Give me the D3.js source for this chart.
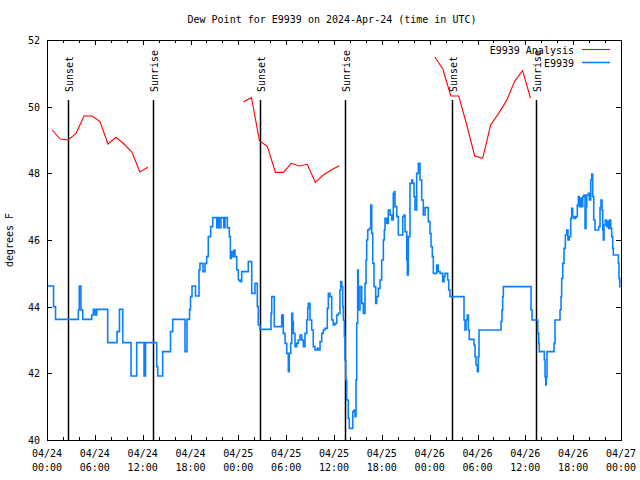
<!DOCTYPE html>
<html>
<head>
<meta charset="utf-8">
<script src="https://cdn.jsdelivr.net/npm/d3@7"></script>
<style>
  body { margin: 0; background: #fff; }
  text { font-family: "DejaVu Sans Mono", monospace; font-size: 10px; fill: #000; }
</style>
</head>
<body>
<div id="chart"></div>
<script>
// hours since 2024-04-24 00:00 UTC
const analysisHours = [0.65, 1.65, 2.65, 3.65, 4.65, 5.65, 6.65, 7.65, 8.65, 9.65, 10.65, 11.65, 12.65, null,
  24.65, 25.65, 26.65, 27.65, 28.65, 29.65, 30.65, 31.65, 32.65, 33.65, 34.65, 35.65, 36.65, null,
  48.65, 49.65, 50.65, 51.65, 52.65, 53.65, 54.65, 55.65, 56.65, 57.65, 58.65, 59.65, 60.65];
const analysisValues = [49.30, 49.03, 49.0, 49.2, 49.72, 49.72, 49.55, 48.88, 49.08, 48.88, 48.64, 48.04, 48.18, null,
  50.15, 50.27, 48.98, 48.8, 48.03, 48.03, 48.3, 48.22, 48.27, 47.73, 47.95, 48.1, 48.23, null,
  51.49, 51.13, 50.32, 50.32, 49.45, 48.52, 48.45, 49.45, 49.8, 50.18, 50.76, 51.08, 50.26];

// station observations [hour, dew point]
const obsSeries = [
  [0, 44.62], [0.82, 44.0], [1.07, 43.62], [3.93, 43.9], [4.05, 44.62], [4.26, 43.9], [4.48, 43.62],
  [5.61, 43.75], [5.81, 43.92], [6.02, 43.75], [6.23, 43.92], [7.61, 42.92], [8.78, 43.25], [9.09, 43.92],
  [9.50, 42.92], [10.54, 41.92], [11.25, 42.92], [12.17, 41.92], [12.36, 42.92], [13.76, 42.2], [13.89, 41.92],
  [14.51, 42.65], [15.49, 43.25], [15.77, 43.62], [17.31, 42.65], [17.56, 43.62], [17.88, 43.92], [18.0, 44.3],
  [18.19, 44.62], [18.63, 44.32], [19.07, 45.1], [19.19, 45.3], [19.57, 45.05], [19.82, 45.3], [20.03, 45.5],
  [20.23, 46.1], [20.53, 46.4], [20.79, 46.67], [21.29, 46.37], [21.49, 46.67], [21.61, 46.37], [21.83, 46.67],
  [22.17, 46.37], [22.33, 46.67], [22.62, 46.37], [22.87, 46.1], [23.0, 45.45], [23.12, 45.65], [23.33, 45.5],
  [23.46, 45.7], [23.58, 45.5], [23.80, 45.1], [24.0, 44.8], [24.21, 44.75], [24.42, 45.05], [25.25, 45.35],
  [25.68, 44.4], [26.09, 44.7], [26.38, 44.0], [26.50, 43.45], [26.72, 43.32], [28.10, 43.8], [28.19, 44.3],
  [28.51, 43.4], [29.44, 43.75], [29.64, 43.2], [29.86, 42.9], [30.07, 42.6], [30.27, 42.05], [30.39, 42.6],
  [30.57, 42.9], [30.70, 43.8], [30.82, 43.55], [30.90, 43.2], [31.11, 42.8], [31.32, 42.9], [31.52, 43.0],
  [31.74, 43.15], [31.95, 43.0], [32.15, 42.8], [32.36, 43.2], [32.58, 43.6], [32.70, 43.95], [32.78, 44.1],
  [32.99, 43.6], [33.20, 43.3], [33.40, 42.8], [33.62, 42.7], [33.91, 42.75], [34.03, 42.7], [34.25, 42.95],
  [34.46, 43.2], [34.66, 43.3], [34.87, 43.35], [35.16, 43.95], [35.29, 44.4], [35.50, 44.3], [35.71, 43.6],
  [35.91, 43.45], [36.13, 43.5], [36.34, 43.75], [36.54, 43.8], [36.75, 44.5], [36.84, 44.75], [36.97, 44.6],
  [37.09, 44.0], [37.17, 43.6], [37.30, 43.1], [37.38, 42.4], [37.47, 41.8], [37.59, 41.2], [37.79, 40.65],
  [37.92, 40.35], [38.35, 40.85], [38.51, 40.9], [38.64, 40.7], [38.76, 41.8], [38.85, 43.5], [38.97, 45.1],
  [39.05, 43.9], [39.26, 44.6], [39.48, 44.1], [39.68, 43.8], [39.89, 44.7], [40.02, 45.4], [40.10, 46.0],
  [40.23, 46.3], [40.43, 46.35], [40.61, 47.05], [40.73, 46.2], [40.86, 45.3], [41.02, 44.6], [41.23, 44.1],
  [41.36, 44.3], [41.56, 44.55], [41.77, 44.8], [41.98, 45.4], [42.19, 46.0], [42.31, 46.3], [42.40, 46.65],
  [42.61, 46.5], [42.81, 46.9], [43.03, 46.75], [43.24, 46.6], [43.44, 47.4], [43.57, 47.45], [43.65, 47.0],
  [43.87, 46.7], [44.07, 46.15], [44.62, 46.7], [44.78, 46.75], [44.91, 46.25], [45.12, 45.4], [45.20, 44.95],
  [45.32, 46.1], [45.53, 47.7], [45.75, 47.8], [45.87, 47.7], [46.04, 47.3], [46.16, 46.9], [46.37, 48.0],
  [46.58, 48.3], [46.79, 47.8], [47.0, 47.2], [47.20, 46.75], [47.42, 46.97], [47.83, 46.55], [48.04, 46.2],
  [48.17, 45.8], [48.33, 45.5], [48.46, 45.0], [48.88, 45.25], [49.08, 45.05], [49.30, 45.0], [49.64, 44.75],
  [49.80, 44.9], [49.93, 45.0], [50.26, 44.8], [50.39, 44.5], [50.55, 44.3], [52.31, 43.6], [52.43, 43.3],
  [52.56, 43.6], [52.72, 43.75], [52.85, 43.3], [52.97, 43.02], [53.56, 42.85], [53.69, 42.5], [53.81, 42.25],
  [53.98, 42.05], [54.10, 42.5], [54.19, 43.3], [56.95, 43.55], [57.07, 43.9], [57.16, 44.3], [57.24, 44.6],
  [60.71, 43.9], [60.84, 43.6], [61.55, 43.2], [61.68, 42.9], [61.75, 42.65], [62.38, 42.4], [62.47, 41.9],
  [62.56, 41.65], [62.63, 41.9], [62.72, 42.65], [63.60, 42.9], [63.72, 43.6], [64.35, 43.9], [64.48, 44.3],
  [64.56, 44.85], [64.69, 45.3], [64.85, 45.75], [65.02, 46.15], [65.19, 46.3], [65.35, 46.0], [65.52, 46.1],
  [65.69, 46.65], [65.82, 46.95], [65.94, 46.7], [66.11, 46.65], [66.32, 46.7], [66.52, 47.05], [66.65, 47.3],
  [66.77, 47.0], [66.95, 47.25], [67.07, 47.0], [67.20, 47.3], [67.36, 47.35], [67.49, 46.35], [67.61, 47.0],
  [67.70, 47.35], [67.90, 47.4], [68.03, 47.2], [68.20, 47.8], [68.33, 47.98], [68.45, 47.3], [68.58, 46.6],
  [68.74, 46.3], [69.20, 46.4], [69.37, 46.97], [69.49, 47.2], [69.62, 46.9], [69.71, 46.3], [69.78, 46.0],
  [69.87, 46.45], [70.03, 46.6], [70.21, 46.4], [70.33, 46.55], [70.46, 46.35], [70.53, 46.6], [70.71, 46.35],
  [70.83, 46.1], [70.96, 45.75], [71.04, 45.55], [71.67, 45.3], [71.75, 44.85], [71.84, 44.6], [71.95, 44.6]
];

const sunLabels = ['Sunset', 'Sunrise', 'Sunset', 'Sunrise', 'Sunset', 'Sunrise'];
const sunHours = [2.67, 13.33, 26.75, 37.4, 50.83, 61.37];

const yTicks = [40, 42, 44, 46, 48, 50, 52];
const xTickDates = ['04/24', '04/24', '04/24', '04/24', '04/25', '04/25', '04/25', '04/25', '04/26', '04/26', '04/26', '04/26', '04/27'];
const xTickTimes = ['00:00', '06:00', '12:00', '18:00', '00:00', '06:00', '12:00', '18:00', '00:00', '06:00', '12:00', '18:00', '00:00'];

const width = 640;
const height = 480;
const margin = { top: 40, right: 19, bottom: 40, left: 47 };

const svg = d3.select('#chart')
  .append('svg')
  .attr('width', width)
  .attr('height', height);

const x = d3.scaleLinear()
  .domain([0, 72])
  .range([margin.left, width - margin.right]);

const y = d3.scaleLinear()
  .domain([40, 52])
  .range([height - margin.bottom, margin.top]);

// ticks (inward, gnuplot style)
function ticks(g, axis) {
  g.call(axis).call(g => g.select('.domain').remove())
    .selectAll('line').attr('stroke', '#000').attr('shape-rendering', 'crispEdges');
  g.selectAll('text').remove();
}
const minor = d3.range(0, 73, 2);
const major = d3.range(0, 73, 6);
svg.append('g').attr('transform', `translate(0,${height - margin.bottom})`)
  .call(g => ticks(g, d3.axisBottom(x).tickValues(minor).tickSizeInner(-3).tickSizeOuter(0)));
svg.append('g').attr('transform', `translate(0,${height - margin.bottom})`)
  .call(g => ticks(g, d3.axisBottom(x).tickValues(major).tickSizeInner(-5).tickSizeOuter(0)));
svg.append('g').attr('transform', `translate(0,${margin.top})`)
  .call(g => ticks(g, d3.axisTop(x).tickValues(minor).tickSizeInner(-3).tickSizeOuter(0)));
svg.append('g').attr('transform', `translate(0,${margin.top})`)
  .call(g => ticks(g, d3.axisTop(x).tickValues(major).tickSizeInner(-5).tickSizeOuter(0)));
svg.append('g').attr('transform', `translate(${margin.left},0)`)
  .call(g => ticks(g, d3.axisLeft(y).tickValues(yTicks).tickSizeInner(-5).tickSizeOuter(0)));
svg.append('g').attr('transform', `translate(${width - margin.right},0)`)
  .call(g => ticks(g, d3.axisRight(y).tickValues(yTicks).tickSizeInner(-5).tickSizeOuter(0)));

// tick labels
svg.append('g').selectAll('text')
  .data(yTicks)
  .join('text')
    .attr('x', margin.left - 7)
    .attr('y', d => y(d) + 4)
    .attr('text-anchor', 'end')
    .text(d => d);

const xl = svg.append('g').selectAll('text')
  .data(major)
  .join('text')
    .attr('text-anchor', 'middle');
xl.append('tspan').attr('x', d => x(d)).attr('y', 457).text((d, i) => xTickDates[i]);
xl.append('tspan').attr('x', d => x(d)).attr('y', 471).text((d, i) => xTickTimes[i]);

// sunrise / sunset markers
svg.append('g').selectAll('line')
  .data(sunHours)
  .join('line')
    .attr('x1', d => Math.round(x(d)) + 0.5)
    .attr('x2', d => Math.round(x(d)) + 0.5)
    .attr('y1', 100)
    .attr('y2', height - margin.bottom)
    .attr('stroke', '#000')
    .attr('stroke-width', 1.5);

svg.append('g').selectAll('text')
  .data(sunHours)
  .join('text')
    .attr('transform', d => `translate(${x(d) + 1},92) rotate(-90)`)
    .attr('dy', '0.35em')
    .text((d, i) => sunLabels[i]);

// series
const analysisLine = d3.line()
  .defined((d, i) => analysisValues[i] != null)
  .x(d => x(d))
  .y((d, i) => y(analysisValues[i]));

svg.append('path')
  .attr('d', analysisLine(analysisHours))
  .attr('fill', 'none')
  .attr('stroke', '#ff0000')
  .attr('stroke-width', 1.1);

const obsLine = d3.line()
  .curve(d3.curveStepAfter)
  .x(d => x(d[0]))
  .y(d => y(d[1]));

svg.append('path')
  .attr('d', obsLine(obsSeries))
  .attr('fill', 'none')
  .attr('stroke', '#0a80ff')
  .attr('stroke-width', 1.6);

// border
svg.append('rect')
  .attr('x', margin.left + 0.5)
  .attr('y', margin.top + 0.5)
  .attr('width', width - margin.left - margin.right)
  .attr('height', height - margin.top - margin.bottom)
  .attr('fill', 'none')
  .attr('stroke', '#000')
  .attr('shape-rendering', 'crispEdges');

// legend
const legend = [
  { name: 'E9939 Analysis', color: '#ff0000', width: 1.1 },
  { name: 'E9939', color: '#0a80ff', width: 1.6 }
];
const lg = svg.append('g').selectAll('g')
  .data(legend)
  .join('g')
    .attr('transform', (d, i) => `translate(0,${49.5 + i * 13})`);
lg.append('text')
  .attr('x', 574)
  .attr('y', 4)
  .attr('text-anchor', 'end')
  .text(d => d.name);
lg.append('line')
  .attr('x1', 582)
  .attr('x2', 610)
  .attr('stroke', d => d.color)
  .attr('stroke-width', d => d.width);

// titles
svg.append('text')
  .attr('x', 332)
  .attr('y', 23)
  .attr('text-anchor', 'middle')
  .text('Dew Point for E9939 on 2024-Apr-24 (time in UTC)');

svg.append('text')
  .attr('transform', 'translate(13,240) rotate(-90)')
  .attr('text-anchor', 'middle')
  .text('degrees F');
</script>
</body>
</html>
